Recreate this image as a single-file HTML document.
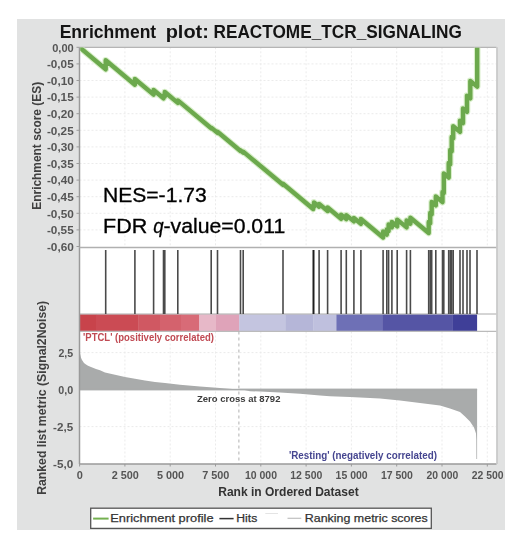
<!DOCTYPE html>
<html><head><meta charset="utf-8"><style>
html,body{margin:0;padding:0;background:#fff;width:520px;height:546px;overflow:hidden}
svg{display:block;filter:blur(0.35px)}
</style></head><body>
<svg width="520" height="546" viewBox="0 0 520 546">
<rect x="17" y="19" width="488" height="511" fill="#e1e2e2"/>
<rect x="79.5" y="47.3" width="417.0" height="416.7" fill="#ffffff"/>
<line x1="124.9" y1="47.3" x2="124.9" y2="247.3" stroke="#ebebeb" stroke-width="1" stroke-dasharray="2,2"/>
<line x1="124.9" y1="331.5" x2="124.9" y2="464.0" stroke="#ebebeb" stroke-width="1" stroke-dasharray="2,2"/>
<line x1="170.2" y1="47.3" x2="170.2" y2="247.3" stroke="#ebebeb" stroke-width="1" stroke-dasharray="2,2"/>
<line x1="170.2" y1="331.5" x2="170.2" y2="464.0" stroke="#ebebeb" stroke-width="1" stroke-dasharray="2,2"/>
<line x1="215.5" y1="47.3" x2="215.5" y2="247.3" stroke="#ebebeb" stroke-width="1" stroke-dasharray="2,2"/>
<line x1="215.5" y1="331.5" x2="215.5" y2="464.0" stroke="#ebebeb" stroke-width="1" stroke-dasharray="2,2"/>
<line x1="260.8" y1="47.3" x2="260.8" y2="247.3" stroke="#ebebeb" stroke-width="1" stroke-dasharray="2,2"/>
<line x1="260.8" y1="331.5" x2="260.8" y2="464.0" stroke="#ebebeb" stroke-width="1" stroke-dasharray="2,2"/>
<line x1="306.1" y1="47.3" x2="306.1" y2="247.3" stroke="#ebebeb" stroke-width="1" stroke-dasharray="2,2"/>
<line x1="306.1" y1="331.5" x2="306.1" y2="464.0" stroke="#ebebeb" stroke-width="1" stroke-dasharray="2,2"/>
<line x1="351.4" y1="47.3" x2="351.4" y2="247.3" stroke="#ebebeb" stroke-width="1" stroke-dasharray="2,2"/>
<line x1="351.4" y1="331.5" x2="351.4" y2="464.0" stroke="#ebebeb" stroke-width="1" stroke-dasharray="2,2"/>
<line x1="396.7" y1="47.3" x2="396.7" y2="247.3" stroke="#ebebeb" stroke-width="1" stroke-dasharray="2,2"/>
<line x1="396.7" y1="331.5" x2="396.7" y2="464.0" stroke="#ebebeb" stroke-width="1" stroke-dasharray="2,2"/>
<line x1="442.0" y1="47.3" x2="442.0" y2="247.3" stroke="#ebebeb" stroke-width="1" stroke-dasharray="2,2"/>
<line x1="442.0" y1="331.5" x2="442.0" y2="464.0" stroke="#ebebeb" stroke-width="1" stroke-dasharray="2,2"/>
<line x1="487.3" y1="47.3" x2="487.3" y2="247.3" stroke="#ebebeb" stroke-width="1" stroke-dasharray="2,2"/>
<line x1="487.3" y1="331.5" x2="487.3" y2="464.0" stroke="#ebebeb" stroke-width="1" stroke-dasharray="2,2"/>
<line x1="79.5" y1="63.9" x2="496.5" y2="63.9" stroke="#ebebeb" stroke-width="1" stroke-dasharray="2,2"/>
<line x1="79.5" y1="80.5" x2="496.5" y2="80.5" stroke="#ebebeb" stroke-width="1" stroke-dasharray="2,2"/>
<line x1="79.5" y1="97.1" x2="496.5" y2="97.1" stroke="#ebebeb" stroke-width="1" stroke-dasharray="2,2"/>
<line x1="79.5" y1="113.7" x2="496.5" y2="113.7" stroke="#ebebeb" stroke-width="1" stroke-dasharray="2,2"/>
<line x1="79.5" y1="130.3" x2="496.5" y2="130.3" stroke="#ebebeb" stroke-width="1" stroke-dasharray="2,2"/>
<line x1="79.5" y1="146.9" x2="496.5" y2="146.9" stroke="#ebebeb" stroke-width="1" stroke-dasharray="2,2"/>
<line x1="79.5" y1="163.5" x2="496.5" y2="163.5" stroke="#ebebeb" stroke-width="1" stroke-dasharray="2,2"/>
<line x1="79.5" y1="180.1" x2="496.5" y2="180.1" stroke="#ebebeb" stroke-width="1" stroke-dasharray="2,2"/>
<line x1="79.5" y1="196.7" x2="496.5" y2="196.7" stroke="#ebebeb" stroke-width="1" stroke-dasharray="2,2"/>
<line x1="79.5" y1="213.3" x2="496.5" y2="213.3" stroke="#ebebeb" stroke-width="1" stroke-dasharray="2,2"/>
<line x1="79.5" y1="229.9" x2="496.5" y2="229.9" stroke="#ebebeb" stroke-width="1" stroke-dasharray="2,2"/>
<line x1="79.5" y1="352.6" x2="496.5" y2="352.6" stroke="#ebebeb" stroke-width="1" stroke-dasharray="2,2"/>
<line x1="79.5" y1="426.6" x2="496.5" y2="426.6" stroke="#ebebeb" stroke-width="1" stroke-dasharray="2,2"/>
<rect x="79.6" y="314.3" width="16.7" height="16.6" fill="#c8434b"/>
<rect x="96.0" y="314.3" width="42.8" height="16.6" fill="#cb4b54"/>
<rect x="138.5" y="314.3" width="21.8" height="16.6" fill="#d05862"/>
<rect x="160.0" y="314.3" width="21.3" height="16.6" fill="#d4626d"/>
<rect x="181.0" y="314.3" width="18.5" height="16.6" fill="#d86b77"/>
<rect x="199.2" y="314.3" width="17.1" height="16.6" fill="#e7b8c8"/>
<rect x="216.0" y="314.3" width="23.5" height="16.6" fill="#dfa3b9"/>
<rect x="239.2" y="314.3" width="46.5" height="16.6" fill="#c4c5e0"/>
<rect x="285.4" y="314.3" width="28.1" height="16.6" fill="#b5b6d8"/>
<rect x="313.2" y="314.3" width="23.5" height="16.6" fill="#bfc0de"/>
<rect x="336.4" y="314.3" width="46.2" height="16.6" fill="#6e70b6"/>
<rect x="382.3" y="314.3" width="70.5" height="16.6" fill="#5555a5"/>
<rect x="452.5" y="314.3" width="24.6" height="16.6" fill="#3f3f98"/>
<line x1="79.5" y1="314" x2="496.5" y2="314" stroke="#aaaaaa" stroke-width="1"/>
<line x1="79.5" y1="331.3" x2="496.5" y2="331.3" stroke="#aaaaaa" stroke-width="1"/>
<line x1="105.7" y1="250" x2="105.7" y2="314" stroke="#4a4a4a" stroke-width="1.6"/>
<line x1="134.9" y1="250" x2="134.9" y2="314" stroke="#4a4a4a" stroke-width="1.6"/>
<line x1="153.6" y1="250" x2="153.6" y2="314" stroke="#4a4a4a" stroke-width="1.6"/>
<line x1="163.5" y1="250" x2="163.5" y2="314" stroke="#4a4a4a" stroke-width="1.6"/>
<line x1="164.8" y1="250" x2="164.8" y2="314" stroke="#4a4a4a" stroke-width="1.6"/>
<line x1="177.8" y1="250" x2="177.8" y2="314" stroke="#4a4a4a" stroke-width="1.6"/>
<line x1="211.2" y1="250" x2="211.2" y2="314" stroke="#4a4a4a" stroke-width="1.6"/>
<line x1="217.5" y1="250" x2="217.5" y2="314" stroke="#4a4a4a" stroke-width="1.6"/>
<line x1="240.5" y1="250" x2="240.5" y2="314" stroke="#4a4a4a" stroke-width="1.6"/>
<line x1="243.2" y1="250" x2="243.2" y2="314" stroke="#4a4a4a" stroke-width="1.6"/>
<line x1="283.0" y1="250" x2="283.0" y2="314" stroke="#4a4a4a" stroke-width="1.6"/>
<line x1="319.1" y1="250" x2="319.1" y2="314" stroke="#4a4a4a" stroke-width="1.6"/>
<line x1="327.6" y1="250" x2="327.6" y2="314" stroke="#4a4a4a" stroke-width="1.6"/>
<line x1="341.1" y1="250" x2="341.1" y2="314" stroke="#4a4a4a" stroke-width="1.6"/>
<line x1="346.3" y1="250" x2="346.3" y2="314" stroke="#4a4a4a" stroke-width="1.6"/>
<line x1="353.9" y1="250" x2="353.9" y2="314" stroke="#4a4a4a" stroke-width="1.6"/>
<line x1="360.9" y1="250" x2="360.9" y2="314" stroke="#4a4a4a" stroke-width="1.6"/>
<line x1="383.1" y1="250" x2="383.1" y2="314" stroke="#4a4a4a" stroke-width="1.6"/>
<line x1="386.8" y1="250" x2="386.8" y2="314" stroke="#4a4a4a" stroke-width="1.6"/>
<line x1="388.6" y1="250" x2="388.6" y2="314" stroke="#4a4a4a" stroke-width="1.6"/>
<line x1="391.9" y1="250" x2="391.9" y2="314" stroke="#4a4a4a" stroke-width="1.6"/>
<line x1="397.2" y1="250" x2="397.2" y2="314" stroke="#4a4a4a" stroke-width="1.6"/>
<line x1="406.6" y1="250" x2="406.6" y2="314" stroke="#4a4a4a" stroke-width="1.6"/>
<line x1="410.4" y1="250" x2="410.4" y2="314" stroke="#4a4a4a" stroke-width="1.6"/>
<line x1="428.7" y1="250" x2="428.7" y2="314" stroke="#4a4a4a" stroke-width="1.6"/>
<line x1="430.2" y1="250" x2="430.2" y2="314" stroke="#4a4a4a" stroke-width="1.6"/>
<line x1="431.7" y1="250" x2="431.7" y2="314" stroke="#4a4a4a" stroke-width="1.6"/>
<line x1="435.8" y1="250" x2="435.8" y2="314" stroke="#4a4a4a" stroke-width="1.6"/>
<line x1="442.5" y1="250" x2="442.5" y2="314" stroke="#4a4a4a" stroke-width="1.6"/>
<line x1="443.8" y1="250" x2="443.8" y2="314" stroke="#4a4a4a" stroke-width="1.6"/>
<line x1="448.7" y1="250" x2="448.7" y2="314" stroke="#4a4a4a" stroke-width="1.6"/>
<line x1="450.2" y1="250" x2="450.2" y2="314" stroke="#4a4a4a" stroke-width="1.6"/>
<line x1="451.7" y1="250" x2="451.7" y2="314" stroke="#4a4a4a" stroke-width="1.6"/>
<line x1="453.2" y1="250" x2="453.2" y2="314" stroke="#4a4a4a" stroke-width="1.6"/>
<line x1="460.0" y1="250" x2="460.0" y2="314" stroke="#4a4a4a" stroke-width="1.6"/>
<line x1="463.0" y1="250" x2="463.0" y2="314" stroke="#4a4a4a" stroke-width="1.6"/>
<line x1="467.0" y1="250" x2="467.0" y2="314" stroke="#4a4a4a" stroke-width="1.6"/>
<line x1="470.0" y1="250" x2="470.0" y2="314" stroke="#4a4a4a" stroke-width="1.6"/>
<line x1="477.0" y1="250" x2="477.0" y2="314" stroke="#4a4a4a" stroke-width="1.6"/>
<line x1="313.5" y1="250" x2="313.5" y2="314" stroke="#1e1e1e" stroke-width="2"/>
<polygon points="79.5,352.5 80.0,353.3 81.0,357.8 82.0,360.0 84.0,363.0 86.0,364.6 88.0,365.8 91.0,367.1 96.0,369.0 100.0,370.3 105.0,372.4 115.0,374.8 125.0,377.1 135.0,378.8 145.0,380.6 155.0,382.1 165.0,383.0 180.0,384.8 200.0,386.4 220.0,388.1 238.9,389.6 238.9,390.1 79.5,390.1" fill="#a9abab"/>
<polygon points="238.9,388.8 250.0,391.2 260.0,391.6 280.0,392.4 300.0,393.8 320.0,395.4 330.0,396.2 350.0,397.0 360.0,397.4 380.0,398.4 400.0,400.6 420.0,402.9 440.0,405.5 450.0,408.4 460.0,412.1 465.0,416.5 470.0,421.6 474.0,427.5 476.0,433.4 476.3,440.0 476.4,459.0 477.1,459.0 477.1,388.8" fill="#a9abab"/>
<rect x="79.5" y="388.8" width="397.6" height="1.6" fill="#a9abab"/>
<line x1="238.9" y1="331.5" x2="238.9" y2="464.0" stroke="#b0b0b0" stroke-width="1" stroke-dasharray="3,3"/>
<line x1="79.5" y1="47.3" x2="79.5" y2="464.0" stroke="#9a9a9a" stroke-width="1.5"/>
<line x1="79.5" y1="47.3" x2="496.5" y2="47.3" stroke="#b5b5b5" stroke-width="1.2"/>
<line x1="79.5" y1="247.4" x2="496.5" y2="247.4" stroke="#b0b0b0" stroke-width="1.5"/>
<line x1="79.5" y1="464.0" x2="496.5" y2="464.0" stroke="#9a9a9a" stroke-width="1.5"/>
<line x1="497.0" y1="47.3" x2="497.0" y2="464.0" stroke="#c4c4c4" stroke-width="1.5"/>
<defs><clipPath id="esclip"><rect x="80.2" y="47.6" width="416" height="199.3"/></clipPath></defs><g clip-path="url(#esclip)">
<polyline points="79.6,47.3 105.7,69.3 105.7,60.3 134.9,84.7 134.9,79.0 153.6,94.6 153.6,90.0 163.5,98.3 163.5,95.5 164.8,96.6 164.8,92.0 177.8,102.9 177.8,100.4 211.2,128.3 211.2,127.6 217.5,132.8 217.5,131.8 240.5,151.0 240.5,150.3 243.2,152.6 243.2,151.6 283.0,184.8 283.0,183.8 313.2,209.0 313.2,206.0 314.0,206.7 314.0,202.4 319.1,206.7 319.1,203.9 327.6,211.0 327.6,207.5 341.1,218.8 341.1,214.8 346.3,219.1 346.3,215.1 353.9,221.4 353.9,218.0 360.9,223.8 360.9,219.0 383.1,237.5 383.1,231.5 386.8,234.6 386.8,229.5 388.6,231.0 388.6,224.5 391.9,227.3 391.9,222.0 397.2,226.4 397.2,219.6 406.6,227.4 406.6,220.5 410.4,223.7 410.4,217.7 428.7,233.0 428.7,222.0 430.2,223.3 430.2,213.0 431.7,214.3 431.7,202.0 435.8,205.4 435.8,196.5 442.5,202.1 442.5,192.0 443.8,193.1 443.8,173.5 448.7,177.6 448.7,163.0 450.2,164.3 450.2,150.0 451.7,151.3 451.7,137.0 453.2,138.3 453.2,126.2 460.0,131.9 460.0,120.6 463.0,123.1 463.0,108.5 467.0,111.8 467.0,95.6 470.3,98.4 470.3,80.9 477.2,86.6 477.2,47.5" fill="none" stroke="#d9efca" stroke-width="6.6" stroke-linejoin="round" stroke-linecap="butt"/>
<polyline points="79.6,47.3 105.7,69.3 105.7,60.3 134.9,84.7 134.9,79.0 153.6,94.6 153.6,90.0 163.5,98.3 163.5,95.5 164.8,96.6 164.8,92.0 177.8,102.9 177.8,100.4 211.2,128.3 211.2,127.6 217.5,132.8 217.5,131.8 240.5,151.0 240.5,150.3 243.2,152.6 243.2,151.6 283.0,184.8 283.0,183.8 313.2,209.0 313.2,206.0 314.0,206.7 314.0,202.4 319.1,206.7 319.1,203.9 327.6,211.0 327.6,207.5 341.1,218.8 341.1,214.8 346.3,219.1 346.3,215.1 353.9,221.4 353.9,218.0 360.9,223.8 360.9,219.0 383.1,237.5 383.1,231.5 386.8,234.6 386.8,229.5 388.6,231.0 388.6,224.5 391.9,227.3 391.9,222.0 397.2,226.4 397.2,219.6 406.6,227.4 406.6,220.5 410.4,223.7 410.4,217.7 428.7,233.0 428.7,222.0 430.2,223.3 430.2,213.0 431.7,214.3 431.7,202.0 435.8,205.4 435.8,196.5 442.5,202.1 442.5,192.0 443.8,193.1 443.8,173.5 448.7,177.6 448.7,163.0 450.2,164.3 450.2,150.0 451.7,151.3 451.7,137.0 453.2,138.3 453.2,126.2 460.0,131.9 460.0,120.6 463.0,123.1 463.0,108.5 467.0,111.8 467.0,95.6 470.3,98.4 470.3,80.9 477.2,86.6 477.2,47.5" fill="none" stroke="#6ca94d" stroke-width="4.4" stroke-linejoin="round" stroke-linecap="butt"/>
</g>
<line x1="76.5" y1="47.3" x2="79.5" y2="47.3" stroke="#9a9a9a" stroke-width="1"/>
<line x1="76.5" y1="63.9" x2="79.5" y2="63.9" stroke="#9a9a9a" stroke-width="1"/>
<line x1="76.5" y1="80.5" x2="79.5" y2="80.5" stroke="#9a9a9a" stroke-width="1"/>
<line x1="76.5" y1="97.1" x2="79.5" y2="97.1" stroke="#9a9a9a" stroke-width="1"/>
<line x1="76.5" y1="113.7" x2="79.5" y2="113.7" stroke="#9a9a9a" stroke-width="1"/>
<line x1="76.5" y1="130.3" x2="79.5" y2="130.3" stroke="#9a9a9a" stroke-width="1"/>
<line x1="76.5" y1="146.9" x2="79.5" y2="146.9" stroke="#9a9a9a" stroke-width="1"/>
<line x1="76.5" y1="163.5" x2="79.5" y2="163.5" stroke="#9a9a9a" stroke-width="1"/>
<line x1="76.5" y1="180.1" x2="79.5" y2="180.1" stroke="#9a9a9a" stroke-width="1"/>
<line x1="76.5" y1="196.7" x2="79.5" y2="196.7" stroke="#9a9a9a" stroke-width="1"/>
<line x1="76.5" y1="213.3" x2="79.5" y2="213.3" stroke="#9a9a9a" stroke-width="1"/>
<line x1="76.5" y1="229.9" x2="79.5" y2="229.9" stroke="#9a9a9a" stroke-width="1"/>
<line x1="76.5" y1="246.5" x2="79.5" y2="246.5" stroke="#9a9a9a" stroke-width="1"/>
<line x1="79.6" y1="464.0" x2="79.6" y2="466.5" stroke="#9a9a9a" stroke-width="1"/>
<line x1="124.9" y1="464.0" x2="124.9" y2="466.5" stroke="#9a9a9a" stroke-width="1"/>
<line x1="170.2" y1="464.0" x2="170.2" y2="466.5" stroke="#9a9a9a" stroke-width="1"/>
<line x1="215.5" y1="464.0" x2="215.5" y2="466.5" stroke="#9a9a9a" stroke-width="1"/>
<line x1="260.8" y1="464.0" x2="260.8" y2="466.5" stroke="#9a9a9a" stroke-width="1"/>
<line x1="306.1" y1="464.0" x2="306.1" y2="466.5" stroke="#9a9a9a" stroke-width="1"/>
<line x1="351.4" y1="464.0" x2="351.4" y2="466.5" stroke="#9a9a9a" stroke-width="1"/>
<line x1="396.7" y1="464.0" x2="396.7" y2="466.5" stroke="#9a9a9a" stroke-width="1"/>
<line x1="442.0" y1="464.0" x2="442.0" y2="466.5" stroke="#9a9a9a" stroke-width="1"/>
<line x1="487.3" y1="464.0" x2="487.3" y2="466.5" stroke="#9a9a9a" stroke-width="1"/>
<text x="59.66" y="37.5" font-family="Liberation Sans, sans-serif" font-weight="bold" font-size="18.4" fill="#141414" textLength="96.55" lengthAdjust="spacingAndGlyphs">Enrichment</text>
<text x="165.7" y="37.5" font-family="Liberation Sans, sans-serif" font-weight="bold" font-size="18.4" fill="#141414" textLength="43.19" lengthAdjust="spacingAndGlyphs">plot:</text>
<text x="213.48" y="37.5" font-family="Liberation Sans, sans-serif" font-weight="bold" font-size="18.4" fill="#141414" textLength="248.41" lengthAdjust="spacingAndGlyphs">REACTOME_TCR_SIGNALING</text>
<text x="102.95" y="202" font-family="Liberation Sans, sans-serif" font-size="19.3" fill="#000" textLength="103.77" lengthAdjust="spacingAndGlyphs" stroke="#000" stroke-width="0.3">NES=-1.73</text>
<text x="103.01" y="232.5" font-family="Liberation Sans, sans-serif" font-size="19.3" fill="#000" textLength="44.26" lengthAdjust="spacingAndGlyphs" stroke="#000" stroke-width="0.3">FDR</text>
<text x="153.22" y="232.5" font-family="Liberation Sans, sans-serif" font-style="italic" font-size="19.3" fill="#000" textLength="10.41" lengthAdjust="spacingAndGlyphs" stroke="#000" stroke-width="0.3">q</text>
<text x="163.52" y="232.5" font-family="Liberation Sans, sans-serif" font-size="19.3" fill="#000" textLength="121.67" lengthAdjust="spacingAndGlyphs" stroke="#000" stroke-width="0.3">-value=0.011</text>
<text x="83.04" y="341.3" font-family="Liberation Sans, sans-serif" font-weight="bold" font-size="10.3" fill="#c04a53" textLength="130.91" lengthAdjust="spacingAndGlyphs">&apos;PTCL&apos; (positively correlated)</text>
<text x="288.91" y="458.5" font-family="Liberation Sans, sans-serif" font-weight="bold" font-size="10.1" fill="#464690" textLength="147.99" lengthAdjust="spacingAndGlyphs">&apos;Resting&apos; (negatively correlated)</text>
<text x="197.01" y="401.9" font-family="Liberation Sans, sans-serif" font-weight="bold" font-size="9.9" fill="#3c3c3c" textLength="83.42" lengthAdjust="spacingAndGlyphs">Zero cross at 8792</text>
<text x="218.2" y="495.8" font-family="Liberation Sans, sans-serif" font-weight="bold" font-size="12" fill="#333" textLength="140.45" lengthAdjust="spacingAndGlyphs">Rank in Ordered Dataset</text>
<text x="52.23" y="51.6" font-family="Liberation Sans, sans-serif" font-weight="bold" font-size="11.8" fill="#555555" textLength="21.5" lengthAdjust="spacingAndGlyphs">0,00</text>
<text x="46.9" y="68.2" font-family="Liberation Sans, sans-serif" font-weight="bold" font-size="11.8" fill="#555555" textLength="26.79" lengthAdjust="spacingAndGlyphs">-0,05</text>
<text x="46.9" y="84.8" font-family="Liberation Sans, sans-serif" font-weight="bold" font-size="11.8" fill="#555555" textLength="26.9" lengthAdjust="spacingAndGlyphs">-0,10</text>
<text x="46.9" y="101.4" font-family="Liberation Sans, sans-serif" font-weight="bold" font-size="11.8" fill="#555555" textLength="26.79" lengthAdjust="spacingAndGlyphs">-0,15</text>
<text x="46.9" y="118.0" font-family="Liberation Sans, sans-serif" font-weight="bold" font-size="11.8" fill="#555555" textLength="26.9" lengthAdjust="spacingAndGlyphs">-0,20</text>
<text x="46.9" y="134.6" font-family="Liberation Sans, sans-serif" font-weight="bold" font-size="11.8" fill="#555555" textLength="26.79" lengthAdjust="spacingAndGlyphs">-0,25</text>
<text x="46.9" y="151.2" font-family="Liberation Sans, sans-serif" font-weight="bold" font-size="11.8" fill="#555555" textLength="26.9" lengthAdjust="spacingAndGlyphs">-0,30</text>
<text x="46.9" y="167.8" font-family="Liberation Sans, sans-serif" font-weight="bold" font-size="11.8" fill="#555555" textLength="26.79" lengthAdjust="spacingAndGlyphs">-0,35</text>
<text x="46.9" y="184.4" font-family="Liberation Sans, sans-serif" font-weight="bold" font-size="11.8" fill="#555555" textLength="26.9" lengthAdjust="spacingAndGlyphs">-0,40</text>
<text x="46.9" y="201.0" font-family="Liberation Sans, sans-serif" font-weight="bold" font-size="11.8" fill="#555555" textLength="26.79" lengthAdjust="spacingAndGlyphs">-0,45</text>
<text x="46.9" y="217.6" font-family="Liberation Sans, sans-serif" font-weight="bold" font-size="11.8" fill="#555555" textLength="26.9" lengthAdjust="spacingAndGlyphs">-0,50</text>
<text x="46.9" y="234.2" font-family="Liberation Sans, sans-serif" font-weight="bold" font-size="11.8" fill="#555555" textLength="26.79" lengthAdjust="spacingAndGlyphs">-0,55</text>
<text x="46.9" y="250.8" font-family="Liberation Sans, sans-serif" font-weight="bold" font-size="11.8" fill="#555555" textLength="26.9" lengthAdjust="spacingAndGlyphs">-0,60</text>
<text x="58.44" y="356.9" font-family="Liberation Sans, sans-serif" font-weight="bold" font-size="11.8" fill="#555555" textLength="14.72" lengthAdjust="spacingAndGlyphs">2,5</text>
<text x="58.35" y="393.9" font-family="Liberation Sans, sans-serif" font-weight="bold" font-size="11.8" fill="#555555" textLength="14.91" lengthAdjust="spacingAndGlyphs">0,0</text>
<text x="53.11" y="430.9" font-family="Liberation Sans, sans-serif" font-weight="bold" font-size="11.8" fill="#555555" textLength="20.02" lengthAdjust="spacingAndGlyphs">-2,5</text>
<text x="53.11" y="467.9" font-family="Liberation Sans, sans-serif" font-weight="bold" font-size="11.8" fill="#555555" textLength="20.12" lengthAdjust="spacingAndGlyphs">-5,0</text>
<text x="76.84" y="479.3" font-family="Liberation Sans, sans-serif" font-weight="bold" font-size="11.8" fill="#555555" textLength="6.09" lengthAdjust="spacingAndGlyphs">0</text>
<text x="111.63" y="479.3" font-family="Liberation Sans, sans-serif" font-weight="bold" font-size="11.8" fill="#555555" textLength="27.16" lengthAdjust="spacingAndGlyphs">2 500</text>
<text x="156.93" y="479.3" font-family="Liberation Sans, sans-serif" font-weight="bold" font-size="11.8" fill="#555555" textLength="27.16" lengthAdjust="spacingAndGlyphs">5 000</text>
<text x="202.14" y="479.3" font-family="Liberation Sans, sans-serif" font-weight="bold" font-size="11.8" fill="#555555" textLength="27.26" lengthAdjust="spacingAndGlyphs">7 500</text>
<text x="244.98" y="479.3" font-family="Liberation Sans, sans-serif" font-weight="bold" font-size="11.8" fill="#555555" textLength="32.06" lengthAdjust="spacingAndGlyphs">10 000</text>
<text x="290.28" y="479.3" font-family="Liberation Sans, sans-serif" font-weight="bold" font-size="11.8" fill="#555555" textLength="32.06" lengthAdjust="spacingAndGlyphs">12 500</text>
<text x="335.58" y="479.3" font-family="Liberation Sans, sans-serif" font-weight="bold" font-size="11.8" fill="#555555" textLength="32.06" lengthAdjust="spacingAndGlyphs">15 000</text>
<text x="380.88" y="479.3" font-family="Liberation Sans, sans-serif" font-weight="bold" font-size="11.8" fill="#555555" textLength="32.06" lengthAdjust="spacingAndGlyphs">17 500</text>
<text x="426.45" y="479.3" font-family="Liberation Sans, sans-serif" font-weight="bold" font-size="11.8" fill="#555555" textLength="31.78" lengthAdjust="spacingAndGlyphs">20 000</text>
<text x="471.75" y="479.3" font-family="Liberation Sans, sans-serif" font-weight="bold" font-size="11.8" fill="#555555" textLength="31.78" lengthAdjust="spacingAndGlyphs">22 500</text>
<text transform="translate(40.8,209.75) rotate(-90)" font-family="Liberation Sans, sans-serif" font-weight="bold" font-size="12.8" fill="#404040" textLength="127.88" lengthAdjust="spacingAndGlyphs">Enrichment score (ES)</text>
<text transform="translate(46,494.87) rotate(-90)" font-family="Liberation Sans, sans-serif" font-weight="bold" font-size="12.8" fill="#404040" textLength="193.96" lengthAdjust="spacingAndGlyphs">Ranked list metric (Signal2Noise)</text>
<rect x="90.7" y="508.2" width="340.6" height="20.2" fill="#ffffff" stroke="#555555" stroke-width="1.3"/>
<line x1="93.1" y1="518.6" x2="108.6" y2="518.6" stroke="#74b050" stroke-width="2"/>
<text x="110.31" y="521.8" font-family="Liberation Sans, sans-serif" font-size="11.7" fill="#333" textLength="103.22" lengthAdjust="spacingAndGlyphs" stroke="#333" stroke-width="0.25">Enrichment profile</text>
<line x1="219.4" y1="518.6" x2="233.6" y2="518.6" stroke="#333" stroke-width="1.5"/>
<text x="236.26" y="521.8" font-family="Liberation Sans, sans-serif" font-size="11.7" fill="#333" textLength="21.01" lengthAdjust="spacingAndGlyphs" stroke="#333" stroke-width="0.25">Hits</text>
<line x1="265.3" y1="513.5" x2="278" y2="513.5" stroke="#e4e4e4" stroke-width="1"/>
<line x1="287.5" y1="518.3" x2="301.3" y2="518.3" stroke="#c0c0c0" stroke-width="1.2"/>
<text x="304.84" y="521.8" font-family="Liberation Sans, sans-serif" font-size="11.7" fill="#333" textLength="122.92" lengthAdjust="spacingAndGlyphs" stroke="#333" stroke-width="0.25">Ranking metric scores</text>
</svg>
</body></html>
